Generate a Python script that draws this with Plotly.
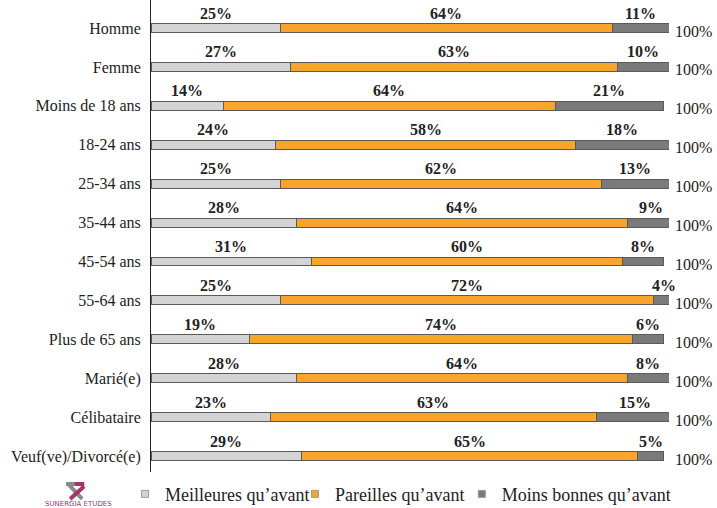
import plotly.graph_objects as go

categories = ["Homme", "Femme", "Moins de 18 ans", "18-24 ans", "25-34 ans", "35-44 ans",
              "45-54 ans", "55-64 ans", "Plus de 65 ans", "Marié(e)", "Célibataire",
              "Veuf(ve)/Divorcé(e)"]
meilleures = [25, 27, 14, 24, 25, 28, 31, 25, 19, 28, 23, 29]
pareilles = [64, 63, 64, 58, 62, 64, 60, 72, 74, 64, 63, 65]
moins = [11, 10, 21, 18, 13, 9, 8, 4, 6, 8, 15, 5]
total_label = "100%"

series = [
    ("Meilleures qu’avant", meilleures, "#D4D4D4"),
    ("Pareilles qu’avant", pareilles, "#F9A52B"),
    ("Moins bonnes qu’avant", moins, "#7A7A7A"),
]
legend_ids = ["legend", "legend2", "legend3"]
legend_x = [-0.050, 0.278, 0.600]

SERIF = "Liberation Serif"
fig = go.Figure()
for name, vals, col in series:
    fig.add_trace(go.Bar(
        y=categories, x=vals, orientation="h", name=name,
        marker=dict(color=col, line=dict(color="#5a5a5a", width=1)),
        width=0.23, showlegend=False, hoverinfo="x+y"))
for (name, vals, col), lid in zip(series, legend_ids):
    fig.add_trace(go.Scatter(
        x=[None], y=[None], mode="markers", name=name, legend=lid,
        marker=dict(symbol="square", size=7, color=col, line=dict(color="#9a9a9a", width=1))))

ann = []
for i, cat in enumerate(categories):
    start = 0
    for name, vals, col in series:
        v = vals[i]
        ann.append(dict(x=start + v / 2, y=cat, xref="x", yref="y", text=f"<b>{v}%</b>",
                        showarrow=False, yshift=15,
                        font=dict(family=SERIF, size=16, color="#222")))
        start += v
    ann.append(dict(x=1, y=cat, xref="paper", yref="y", text=total_label, showarrow=False,
                    xanchor="left", xshift=4, yshift=-3,
                    font=dict(family=SERIF, size=16, color="#222")))

# logo (decoration)
ann.append(dict(x=-0.139, y=-0.068, xref="paper", yref="paper", text="SUNERGIA ETUDES",
                xanchor="center", yanchor="middle",
                showarrow=False, font=dict(family="DejaVu Sans", size=7, color="#9b3a6a")))
shapes = [
    dict(type="line", xref="paper", yref="paper", x0=-0.160, x1=-0.133, y0=-0.0254, y1=-0.057,
         line=dict(color="#8a8a8a", width=4)),
    dict(type="line", xref="paper", yref="paper", x0=-0.129, x1=-0.156, y0=-0.030, y1=-0.057,
         line=dict(color="#a8326a", width=4)),
    dict(type="line", xref="paper", yref="paper", x0=-0.164, x1=-0.129, y0=-0.0254, y1=-0.0254,
         line=dict(color="#8a8a8a", width=4)),
    dict(type="line", xref="paper", yref="paper", x0=-0.147, x1=-0.129, y0=-0.0254, y1=-0.0254,
         line=dict(color="#a8326a", width=4)),
]

legend_common = dict(orientation="h", xanchor="left", y=-0.047, yanchor="middle",
                     font=dict(family=SERIF, size=18, color="#222"), itemwidth=30,
                     bgcolor="rgba(0,0,0,0)")
legends = {lid: dict(legend_common, x=lx) for lid, lx in zip(legend_ids, legend_x)}

fig.update_layout(
    barmode="stack",
    width=717, height=508,
    margin=dict(l=151, r=48, t=0, b=36, autoexpand=False),
    paper_bgcolor="white", plot_bgcolor="white",
    font=dict(family=SERIF, size=16, color="#222"),
    xaxis=dict(range=[0, 100], visible=False, fixedrange=True),
    yaxis=dict(type="category", range=[11.41, -0.72], showline=True, linecolor="#222",
               linewidth=1, ticks="", showgrid=False, ticklabelstandoff=6,
               tickfont=dict(family=SERIF, size=16, color="#222"), fixedrange=True),
    annotations=ann,
    shapes=shapes,
    **legends,
)

fig.write_html("out.html")
